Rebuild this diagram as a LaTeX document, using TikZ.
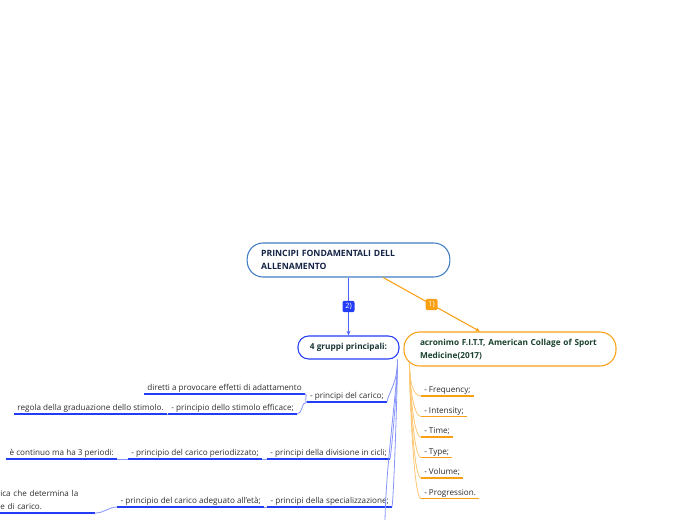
\documentclass[tikz,border=0pt]{standalone}
\usepackage{fontspec}
\setmainfont{Open Sans}
\usepackage{tikz}
\usetikzlibrary{arrows.meta, positioning, calc}
\usepackage{xcolor}
\definecolor{mmblue}{RGB}{35,60,245}
\definecolor{mmorange}{RGB}{250,160,20}
\definecolor{rootblue}{RGB}{65,125,195}
\definecolor{roottext}{RGB}{20,35,70}
\definecolor{grptext}{RGB}{25,55,55}
\definecolor{fitttext}{RGB}{25,65,45}
\definecolor{leaftext}{RGB}{45,45,45}

\begin{document}
\begin{tikzpicture}[x=0.75pt, y=-0.75pt, every node/.style={font=\fontsize{6.1}{9.75}\selectfont}]
  % define styles
  \tikzstyle{root}=[rectangle, rounded corners=12pt, draw=rootblue, line width=0.8pt, fill=white, minimum width=152pt, minimum height=25.5pt, inner xsep=10.5pt, text width=131pt, align=left, text=roottext, font=\fontsize{6.5}{9.75}\selectfont\bfseries]
  \tikzstyle{group}=[rectangle, rounded corners=8pt, draw=mmblue, line width=0.8pt, fill=white, minimum width=75.75pt, minimum height=17.25pt, text=grptext, font=\fontsize{6.2}{9.75}\selectfont\bfseries]
  \tikzstyle{fitt}=[rectangle, rounded corners=12pt, draw=mmorange, line width=0.8pt, fill=white, minimum width=159pt, minimum height=25.5pt, inner xsep=12pt, text width=135pt, align=left, text=fitttext, font=\fontsize{6.2}{9.75}\selectfont\bfseries]
  \tikzstyle{tag}=[rectangle, rounded corners=1.5pt, minimum width=9pt, minimum height=8.5pt, inner sep=1pt, text=white, font=\fontsize{5.5}{6}\selectfont]
  \tikzstyle{leaf}=[inner xsep=2.25pt, inner ysep=1pt, text height=4.6pt, text depth=1.4pt, text=leaftext]
  \tikzstyle{bline}=[draw=mmblue, line width=1.1pt]
  \tikzstyle{oline}=[draw=mmorange, line width=1.1pt]
  \tikzstyle{bconn}=[draw=mmblue!55, line width=0.6pt]
  \tikzstyle{oconn}=[draw=mmorange!60, line width=0.6pt]
  \tikzstyle{arrow}=[line width=0.8pt, -{Stealth[length=3.5pt, width=3pt]}]

  \useasboundingbox (0,0) rectangle (696,520);
  \clip (0,0) rectangle (696,520);

  % main nodes
  \node (root) [root] at (348.5,260) {PRINCIPI FONDAMENTALI DELL\\ALLENAMENTO};
  \node (grp) [group] at (348.5,347.5) {4 gruppi principali:};
  \node (fitt) [fitt] at (510,349) {acronimo F.I.T.T, American Collage of Sport\\Medicine(2017)};

  % blue branch
  \node (carico) [leaf, anchor=south east] at (387,402) {- principi del carico;};
  \node (adatt) [leaf, anchor=south east] at (305,394) {diretti a provocare effetti di adattamento};
  \node (stimolo) [leaf, anchor=south east] at (297,414) {- principio dello stimolo efficace;};
  \node (gradua) [leaf, anchor=south east] at (167,414) {regola della graduazione dello stimolo.};
  \node (cicli) [leaf, anchor=south east] at (390,459) {- principi della divisione in cicli;};
  \node (period) [leaf, anchor=south east] at (262,459) {- principio del carico periodizzato;};
  \node (periodi) [leaf, anchor=south east] at (117,459) {è continuo ma ha 3 periodi:};
  \node (spec) [leaf, anchor=south east] at (392,507) {- principi della specializzazione;};
  \node (eta) [leaf, anchor=south east] at (264,507) {- principio del carico adeguato all'età;};
  \node (logica) [inner xsep=0pt, inner ysep=2pt, text width=71pt, align=left, anchor=south west, text=leaftext] at (0,513) {ica che determina la\\e di carico.};
  \coordinate (more) at (385,525);

  % orange branch
  \node (freq) [leaf, anchor=south west] at (421,396) {- Frequency;};
  \node (inten) [leaf, below=7pt of freq.south west, anchor=north west] {- Intensity;};
  \node (time) [leaf, below=7pt of inten.south west, anchor=north west] {- Time;};
  \node (type) [leaf, below=7pt of time.south west, anchor=north west] {- Type;};
  \node (vol) [leaf, below=7pt of type.south west, anchor=north west] {- Volume;};
  \node (prog) [leaf, below=7pt of vol.south west, anchor=north west] {- Progression.};

  % underlines
  \foreach \n in {carico,adatt,stimolo,gradua,cicli,period,periodi,spec,eta,logica}
    \draw[bline] (\n.south west) -- (\n.south east);
  \foreach \n in {freq,inten,time,type,vol,prog}
    \draw[oline] (\n.south west) -- (\n.south east);

  % arrows
  \draw[arrow, draw=mmblue!80] (root) -- node[tag, fill=mmblue] {2)} (grp);
  \draw[arrow, draw=mmorange] ([xshift=26pt]root.south) -- node[tag, fill=mmorange] {1)} ([xshift=-22.5pt]fitt.north);

  % connectors
  \coordinate (gs) at ([xshift=-1.5pt]grp.south east);
  \draw[draw=mmblue, line width=0.8pt] (gs) -- ([yshift=-7pt]gs);
  \foreach \n in {carico,cicli,spec}
    \draw[bconn] (gs) to[out=-90, in=80, out distance=18pt, in distance=8pt] (\n.south east);
  \draw[bconn] (gs) to[out=-90, in=90, out distance=20pt, in distance=40pt] (more);
  \draw[bconn] (carico.south west) to[out=180, in=0] (adatt.south east);
  \draw[bconn] (carico.south west) to[out=180, in=0] (stimolo.south east);
  \draw[bconn] (stimolo.south west) -- (gradua.south east);
  \draw[bconn] (cicli.south west) -- (period.south east);
  \draw[bconn] (period.south west) -- (periodi.south east);
  \draw[bconn] (spec.south west) -- (eta.south east);
  \draw[bconn] (eta.south west) to[out=180, in=0] (logica.south east);

  \coordinate (as) at ([xshift=4.5pt, yshift=2.5pt]fitt.south west);
  \draw[draw=mmorange, line width=0.8pt] (as) -- ([yshift=-7pt]as);
  \foreach \n in {freq,inten,time,type,vol,prog}
    \draw[oconn] (as) to[out=-90, in=180, out distance=14pt, in distance=6pt] (\n.south west);
\end{tikzpicture}
\end{document}
